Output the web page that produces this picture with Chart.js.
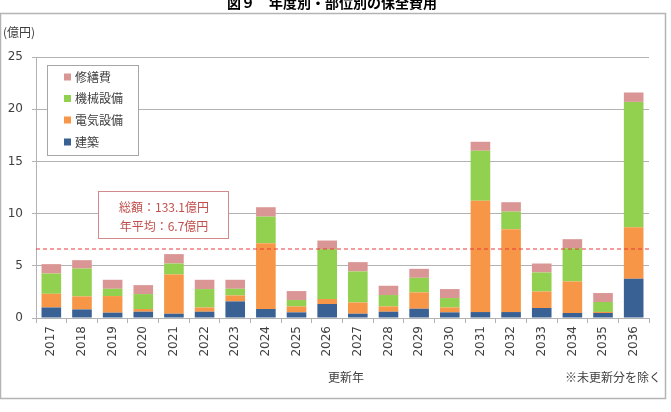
<!DOCTYPE html>
<html><head><meta charset="utf-8">
<script src="https://cdn.jsdelivr.net/npm/chart.js@4"></script>
<style>html,body{margin:0;padding:0;background:#fff;}canvas{display:block;}</style>
</head><body>
<canvas id="c" width="671" height="412"></canvas>
<script>
const years = ['2017','2018','2019','2020','2021','2022','2023','2024','2025','2026','2027','2028','2029','2030','2031','2032','2033','2034','2035','2036'];
const kenchiku = [1.01,0.82,0.51,0.60,0.41,0.60,1.59,0.86,0.54,1.34,0.41,0.60,0.89,0.54,0.57,0.57,0.96,0.48,0.48,3.76];
const denki    = [1.31,1.25,1.59,0.26,3.76,0.41,0.57,6.31,0.57,0.48,1.08,0.51,1.56,0.47,10.67,7.94,1.58,3.02,0.10,4.94];
const kikai    = [1.94,2.67,0.70,1.43,1.05,1.76,0.64,2.54,0.61,4.78,2.97,1.09,1.40,0.90,4.78,1.68,1.82,3.19,0.95,12.00];
const shuzen   = [0.90,0.80,0.86,0.86,0.90,0.89,0.86,0.90,0.86,0.82,0.89,0.89,0.86,0.86,0.86,0.90,0.86,0.86,0.86,0.90];
const seriesNames = ['建築','電気設備','機械設備','修繕費'];
const yTicks = [0,5,10,15,20,25];
const averageValue = [6.655];
const totalText = ['総額：133.1億円','年平均：6.7億円'];
const titleText = '図９　年度別・部位別の保全費用';

const COLORS = ['#3A6194','#F79646','#92D050','#DA9694'];
const JP = '"Noto Sans CJK JP", sans-serif';
const NUM = '"DejaVu Sans", "Noto Sans CJK JP", sans-serif';
const GRID = '#B2B2B2';

const extras = {
  id: 'extras',
  beforeDraw(chart) {
    const ctx = chart.ctx;
    ctx.save();
    ctx.fillStyle = '#fff';
    ctx.fillRect(0, 0, chart.width, chart.height);
    ctx.restore();
  },
  afterDatasetsDraw(chart) {
    const ctx = chart.ctx, a = chart.chartArea, y = chart.scales.y;
    const py = Math.round(y.getPixelForValue(averageValue[0]));
    ctx.save();
    ctx.strokeStyle = '#E8393D';
    ctx.lineWidth = 1.2;
    ctx.setLineDash([4, 3]);
    ctx.beginPath();
    ctx.moveTo(a.left, py);
    ctx.lineTo(a.right, py);
    ctx.stroke();
    ctx.restore();
  },
  afterDraw(chart) {
    const ctx = chart.ctx;
    ctx.save();
    // frame
    ctx.strokeStyle = '#B4B4B4';
    ctx.lineWidth = 1.5;
    ctx.strokeRect(0.5, 13.5, 665, 385);
    // title
    ctx.fillStyle = '#000';
    ctx.font = 'bold 14px ' + JP;
    ctx.textAlign = 'center';
    ctx.textBaseline = 'middle';
    ctx.fillText(titleText, 332, 3);
    // unit label
    ctx.fillStyle = '#404040';
    ctx.font = '12px ' + JP;
    ctx.textAlign = 'left';
    ctx.fillText('(億円)', 3, 32);
    // annotation box
    ctx.fillStyle = '#fff';
    ctx.fillRect(98, 191, 130, 47);
    ctx.strokeStyle = '#D48A8A';
    ctx.lineWidth = 1;
    ctx.setLineDash([]);
    ctx.strokeRect(98.5, 191.5, 130, 47);
    ctx.fillStyle = '#C0504D';
    ctx.font = '12px ' + JP;
    ctx.textAlign = 'center';
    ctx.fillText(totalText[0], 164, 207);
    ctx.fillText(totalText[1], 164, 226);
    // legend box
    ctx.fillStyle = '#fff';
    ctx.fillRect(47, 65, 91, 90);
    ctx.strokeStyle = '#A6A6A6';
    ctx.strokeRect(47.5, 65.5, 91, 90);
    const rows = [77, 98.5, 120, 142];
    ctx.font = '12px ' + JP;
    ctx.textAlign = 'left';
    for (let i = 0; i < 4; i++) {
      const di = 3 - i;
      ctx.fillStyle = chart.data.datasets[di].backgroundColor;
      ctx.fillRect(64, rows[i] - 3.5, 7, 7);
      ctx.fillStyle = '#404040';
      ctx.fillText(chart.data.datasets[di].label, 75, rows[i]);
    }
    // axis title & note
    ctx.font = '12px ' + JP;
    ctx.textAlign = 'center';
    ctx.fillText('更新年', 346, 377);
    ctx.textAlign = 'right';
    ctx.fillText('※未更新分を除く', 661, 377);
    ctx.restore();
  }
};

new Chart(document.getElementById('c'), {
  type: 'bar',
  data: {
    labels: years,
    datasets: [
      { label: seriesNames[0], data: kenchiku, backgroundColor: COLORS[0] },
      { label: seriesNames[1], data: denki, backgroundColor: COLORS[1] },
      { label: seriesNames[2], data: kikai, backgroundColor: COLORS[2] },
      { label: seriesNames[3], data: shuzen, backgroundColor: COLORS[3] }
    ]
  },
  options: {
    responsive: false,
    animation: false,
    devicePixelRatio: 1,
    datasets: { bar: { categoryPercentage: 1, barPercentage: 0.64, borderWidth: 0 } },
    layout: { padding: { top: 57, right: 22, left: 0, bottom: 0 } },
    plugins: { legend: { display: false }, tooltip: { enabled: false }, title: { display: false } },
    scales: {
      x: {
        stacked: true,
        offset: true,
        grid: { drawOnChartArea: false, drawTicks: true, tickLength: 5, color: GRID, offset: true },
        border: { color: GRID },
        ticks: { minRotation: 90, maxRotation: 90, padding: 3, color: '#404040', font: { family: NUM, size: 12 } },
        afterFit(s) { s.height = 94; }
      },
      y: {
        stacked: true,
        min: 0, max: 25,
        afterBuildTicks(s) { s.ticks = yTicks.map(v => ({ value: v })); },
        grid: { color: GRID, tickLength: 4 },
        border: { color: GRID },
        ticks: { padding: 9, color: '#404040', font: { family: NUM, size: 12 } },
        afterFit(s) { s.width = 36; }
      }
    }
  },
  plugins: [extras]
});
</script>
</body></html>
